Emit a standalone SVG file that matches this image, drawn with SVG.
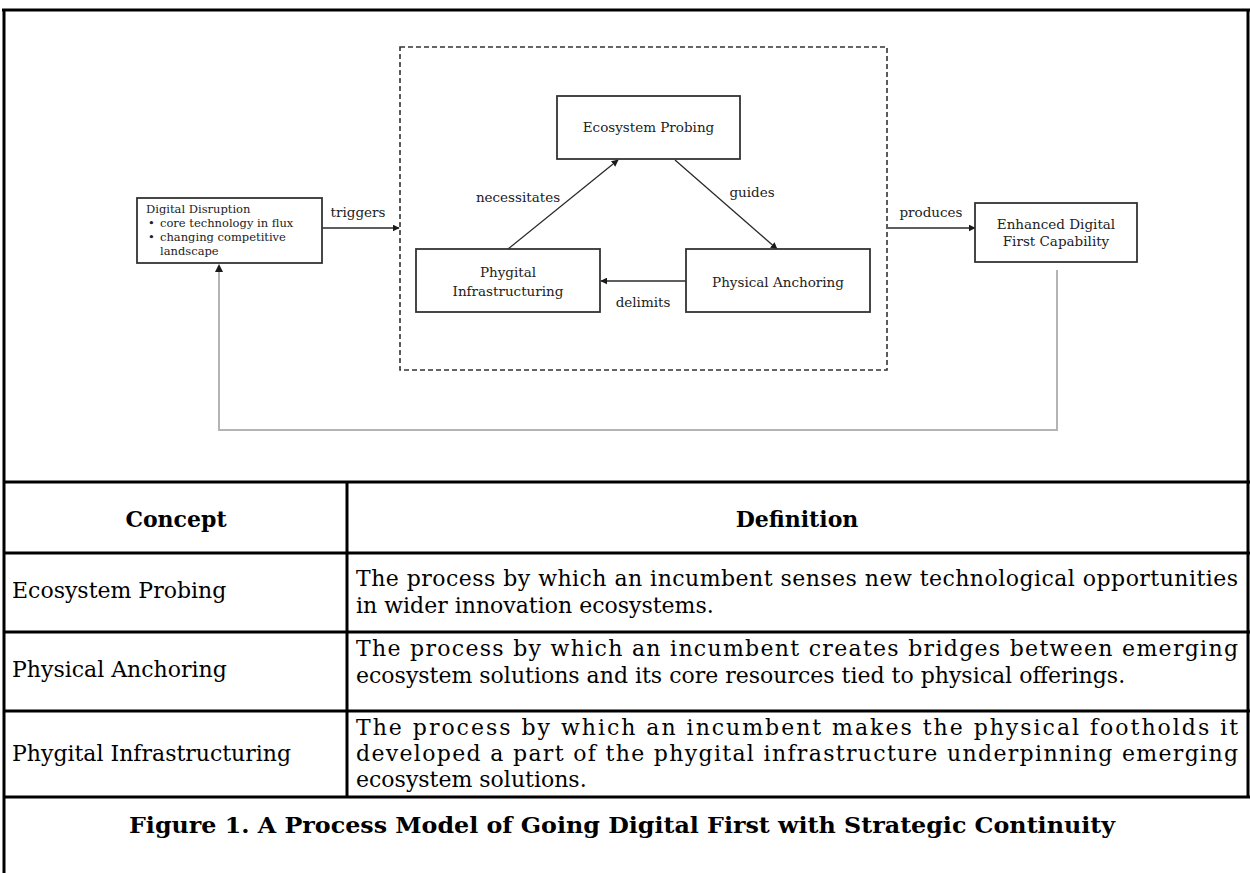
<svg xmlns="http://www.w3.org/2000/svg" width="1250" height="873" viewBox="0 0 1250 873">
  <defs>
    <style>
      .node { fill: #ffffff; stroke: #333333; stroke-width: 1.8; }
      .dash { fill: none; stroke: #333333; stroke-width: 1.6; stroke-dasharray: 5 3; }
      .edge { fill: none; stroke: #2a2a2a; stroke-width: 1.3; }
      .loop { fill: none; stroke: #b4b4b4; stroke-width: 2; }
      .dt { font-family: "DejaVu Serif", "Liberation Serif", serif; font-size: 13.5px; fill: #222222; }
      .st { font-family: "DejaVu Serif", "Liberation Serif", serif; font-size: 11.5px; fill: #222222; }
      .rule { stroke: #000000; stroke-width: 3; fill: none; }
      .tt { font-family: "DejaVu Serif", "Liberation Serif", serif; font-size: 22px; fill: #000000; }
      .th { font-family: "DejaVu Serif", "Liberation Serif", serif; font-size: 22px; font-weight: bold; fill: #000000; }
    </style>
    <marker id="arrow" viewBox="0 0 10 10" refX="9" refY="5" markerWidth="7" markerHeight="7" markerUnits="userSpaceOnUse" orient="auto">
      <path d="M0,0 L10,5 L0,10 z" fill="#1a1a1a"/>
    </marker>
  </defs>

  <rect x="0" y="0" width="1250" height="873" fill="#ffffff"/>

  <!-- outer frame and table rules -->
  <g id="frame">
    <line class="rule" x1="2" y1="10" x2="1250" y2="10"/>
    <line class="rule" x1="4" y1="10" x2="4" y2="873"/>
    <line class="rule" x1="1248" y1="10" x2="1248" y2="797"/>
    <line class="rule" x1="4" y1="482" x2="1250" y2="482"/>
    <line class="rule" x1="4" y1="553" x2="1250" y2="553"/>
    <line class="rule" x1="4" y1="632" x2="1250" y2="632"/>
    <line class="rule" x1="4" y1="711" x2="1250" y2="711"/>
    <line class="rule" x1="4" y1="797" x2="1250" y2="797"/>
    <line class="rule" x1="347" y1="482" x2="347" y2="797"/>
  </g>

  <!-- process stage container -->
  <rect id="stage-box" class="dash" x="400" y="47" width="487" height="323"/>

  <g id="connectors">
    <line class="edge" x1="322" y1="228" x2="399" y2="228" marker-end="url(#arrow)"/>
    <line class="edge" x1="888" y1="228" x2="975" y2="228" marker-end="url(#arrow)"/>
    <line class="edge" x1="508" y1="249" x2="618" y2="160" marker-end="url(#arrow)"/>
    <line class="edge" x1="675" y1="160" x2="777" y2="249" marker-end="url(#arrow)"/>
    <line class="edge" x1="686" y1="281" x2="601" y2="281" marker-end="url(#arrow)"/>
    <polyline class="loop" points="1057,270 1057,430 219,430 219,271"/>
    <path d="M215,272 L219,264 L223,272 z" fill="#1a1a1a"/>
    <text class="dt" x="358" y="217" text-anchor="middle">triggers</text>
    <text class="dt" x="931" y="217" text-anchor="middle">produces</text>
    <text class="dt" x="518" y="202" text-anchor="middle">necessitates</text>
    <text class="dt" x="752" y="197" text-anchor="middle">guides</text>
    <text class="dt" x="643" y="307" text-anchor="middle">delimits</text>
  </g>

  <g id="digital-disruption">
    <rect class="node" x="137" y="198" width="185" height="65"/>
    <text class="st" x="146" y="213">Digital Disruption</text>
    <text class="st" x="148" y="227">•</text>
    <text class="st" x="160" y="227">core technology in flux</text>
    <text class="st" x="148" y="241">•</text>
    <text class="st" x="160" y="241">changing competitive</text>
    <text class="st" x="160" y="255">landscape</text>
  </g>

  <g id="ecosystem-probing">
    <rect class="node" x="557" y="96" width="183" height="63"/>
    <text class="dt" x="648.5" y="132" text-anchor="middle">Ecosystem Probing</text>
  </g>

  <g id="phygital-infrastructuring">
    <rect class="node" x="416" y="249" width="184" height="63"/>
    <text class="dt" x="508" y="277" text-anchor="middle">Phygital</text>
    <text class="dt" x="508" y="296" text-anchor="middle">Infrastructuring</text>
  </g>

  <g id="physical-anchoring">
    <rect class="node" x="686" y="249" width="184" height="63"/>
    <text class="dt" x="778" y="287" text-anchor="middle">Physical Anchoring</text>
  </g>

  <g id="enhanced-capability">
    <rect class="node" x="975" y="203" width="162" height="59"/>
    <text class="dt" x="1056" y="229" text-anchor="middle">Enhanced Digital</text>
    <text class="dt" x="1056" y="246" text-anchor="middle">First Capability</text>
  </g>

  <!-- concept definitions table -->
  <g id="table-text">
    <text class="th" x="176" y="527" text-anchor="middle">Concept</text>
    <text class="th" x="797" y="527" text-anchor="middle">Definition</text>

    <text class="tt" x="12" y="598">Ecosystem Probing</text>
    <text class="tt" x="356" y="586" textLength="882" lengthAdjust="spacing">The process by which an incumbent senses new technological opportunities</text>
    <text class="tt" x="356" y="613">in wider innovation ecosystems.</text>

    <text class="tt" x="12" y="677">Physical Anchoring</text>
    <text class="tt" x="356" y="656" textLength="882" lengthAdjust="spacing">The process by which an incumbent creates bridges between emerging</text>
    <text class="tt" x="356" y="683">ecosystem solutions and its core resources tied to physical offerings.</text>

    <text class="tt" x="12" y="761">Phygital Infrastructuring</text>
    <text class="tt" x="356" y="735" textLength="882" lengthAdjust="spacing">The process by which an incumbent makes the physical footholds it</text>
    <text class="tt" x="356" y="761" textLength="882" lengthAdjust="spacing">developed a part of the phygital infrastructure underpinning emerging</text>
    <text class="tt" x="356" y="787">ecosystem solutions.</text>

    <text class="th" x="622" y="833" text-anchor="middle" textLength="986" lengthAdjust="spacingAndGlyphs">Figure 1.  A Process Model of Going Digital First with Strategic Continuity</text>
  </g>
</svg>
